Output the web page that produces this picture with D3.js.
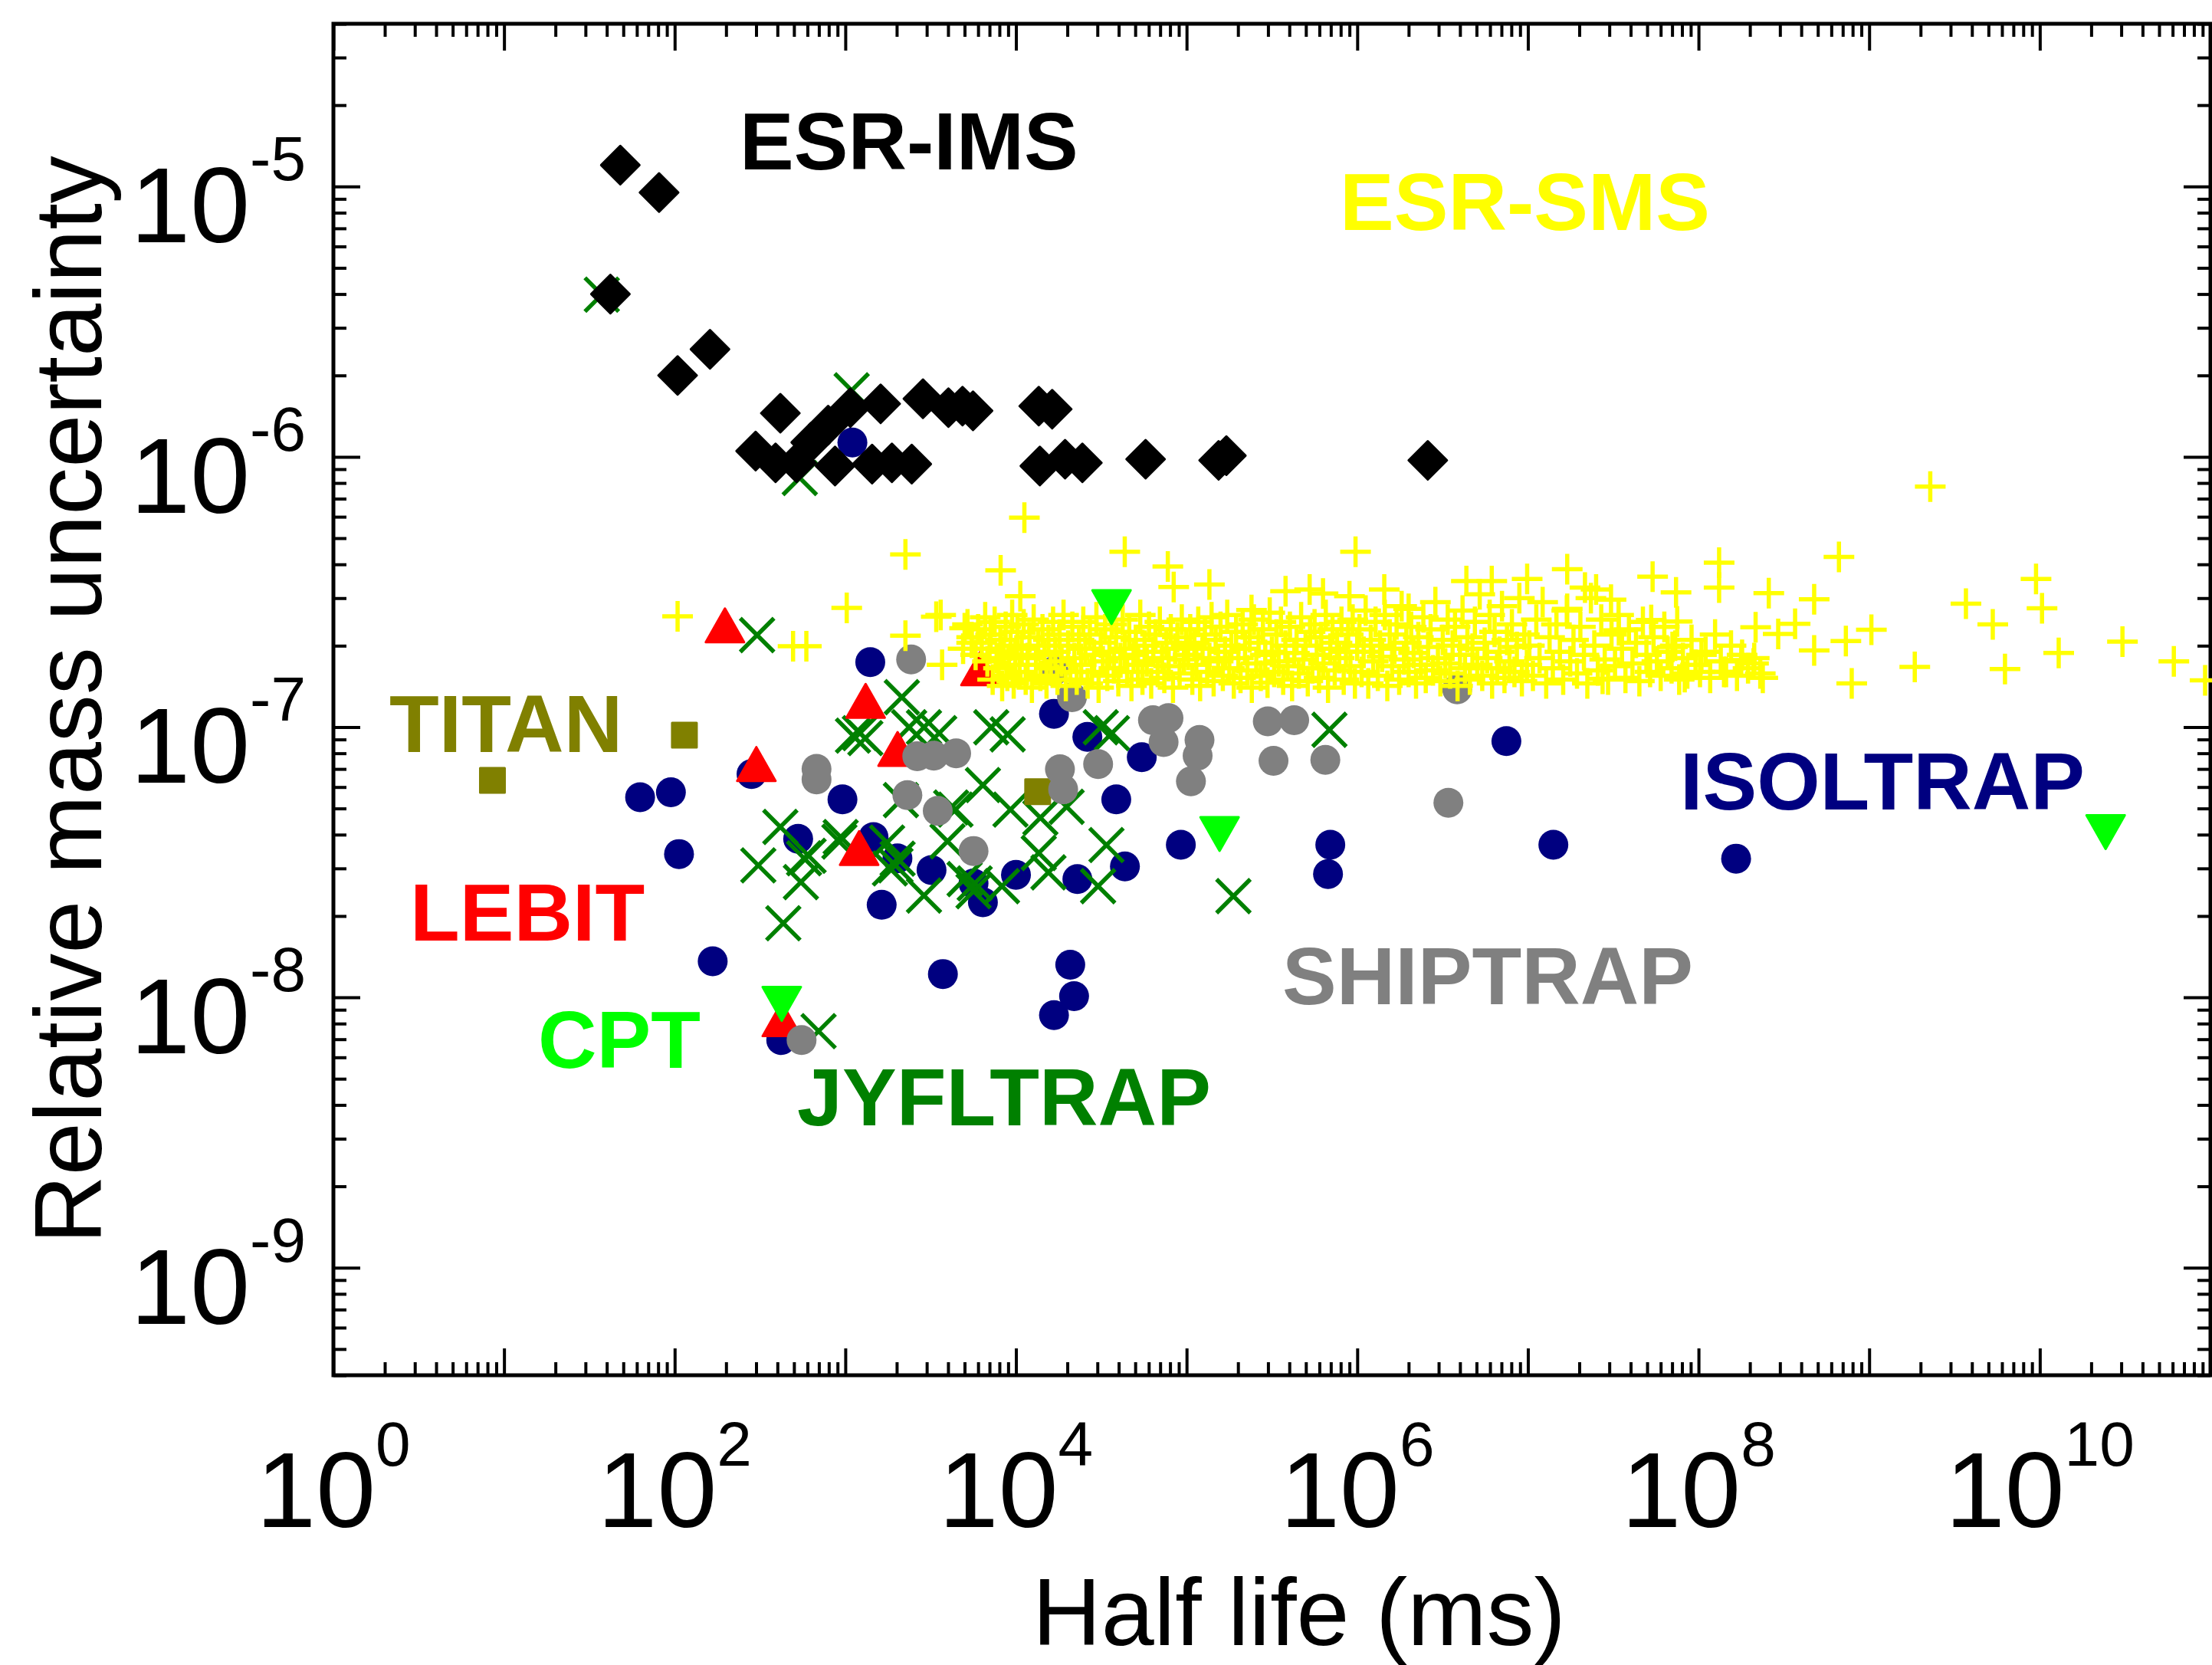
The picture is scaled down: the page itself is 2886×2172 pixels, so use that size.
<!DOCTYPE html>
<html>
<head>
<meta charset="utf-8">
<script src="https://cdn.jsdelivr.net/npm/d3@7"></script>
<style>
  body { margin: 0; background: #fff; }
  text { font-family: "Liberation Sans", Arial, Helvetica, sans-serif; }
</style>
</head>
<body>
<div id="chart"></div>
<script>
var width = 2886;
var height = 2172;

// [half life (ms), relative mass uncertainty]
var isoltrap = [[1100,1.13e-6],[1400,1.74e-7],[62.7,5.5e-8],[95,5.74e-8],[106,3.39e-8],[282,6.7e-8],[962,5.4e-8],[529,3.86e-8],[1463,3.92e-8],[2020,3.27e-8],[3200,2.96e-8],[1633,2.2e-8],[5640,2.64e-8],[6400,2.25e-8],[1.0e4,2.84e-8],[2.29e4,2.74e-8],[4.35e4,3.05e-8],[3730,1.22e-8],[2.08e4,1.32e-8],[2.19e4,1.01e-8],[1.67e4,8.6e-9],[1.67e4,1.12e-7],[2.62e4,9.2e-8],[5.46e4,7.74e-8],[3.87e4,5.4e-8],[9.25e4,3.67e-8],[6.95e5,3.67e-8],[6.74e5,2.86e-8],[7.48e6,8.87e-8],[1.41e7,3.67e-8],[1.66e8,3.26e-8],[167,1.36e-8],[421,6.95e-9]];

var jyfltrap = [[37.4,3.98e-6],[1089,1.76e-6],[541,8.35e-7],[304,2.19e-7],[2143,1.29e-7],[1109,9.3e-8],[1217,9.5e-8],[1310,9.1e-8],[2365,9.98e-8],[2890,9.98e-8],[3550,9.5e-8],[7160,9.98e-8],[8940,9.4e-8],[3.14e4,9.98e-8],[3.65e4,9.5e-8],[6400,6.1e-8],[2117,5.37e-8],[4420,4.95e-8],[9280,4.95e-8],[1.98e4,5.07e-8],[1.39e4,4.62e-8],[416,4.27e-8],[939,3.92e-8],[1757,3.74e-8],[3970,3.78e-8],[1.36e4,3.42e-8],[3.39e4,3.66e-8],[309,3.08e-8],[609,3.34e-8],[549,2.67e-8],[1967,3.08e-8],[2024,3.26e-8],[5730,2.64e-8],[2890,2.38e-8],[8280,2.58e-8],[1.55e4,2.9e-8],[3.03e4,2.58e-8],[433,1.88e-8],[697,7.5e-9],[5640,2.47e-8],[1.88e5,2.37e-8],[6.87e5,9.77e-8],[573,3.27e-8],[923,3.77e-8],[1825,3.0e-8],[5000,2.74e-8],[4170,5.04e-8]];

var lebit = [[197,2.38e-7],[1315,1.25e-7],[2024,8.3e-8],[301,7.3e-8],[1205,3.57e-8],[6190,1.65e-7],[424,8.3e-9]];

var titan = [[114,9.33e-8],[8.55,6.35e-8],[1.34e4,5.77e-8]];

var shiptrap = [[2430,1.78e-7],[678,7.0e-8],[678,6.4e-8],[2640,7.8e-8],[3300,7.84e-8],[4460,8.0e-8],[2310,5.6e-8],[3480,4.9e-8],[5640,3.48e-8],[1.81e4,6.98e-8],[1.89e4,5.88e-8],[3.03e4,7.3e-8],[2.13e4,1.29e-7],[1.66e4,1.61e-7],[6.35e4,1.06e-7],[7.83e4,1.08e-7],[7.33e4,8.8e-8],[1.19e5,8.96e-8],[1.16e5,7.84e-8],[1.06e5,6.3e-8],[2.99e5,1.05e-7],[4.27e5,1.06e-7],[3.23e5,7.5e-8],[6.5e5,7.56e-8],[3.85e6,1.38e-7],[3.42e6,5.25e-8],[554,6.95e-9]];

var cpt = [[3.63e4,2.78e-7],[1.56e5,4.02e-8],[2.43e10,4.09e-8],[424,9.46e-9]];

var esrIms = [[48,1.2e-5],[81,9.5e-6],[42,4.0e-6],[104,2.0e-6],[161,2.5e-6],[416,1.45e-6],[298,1.05e-6],[518,9.5e-7],[793,1.31e-6],[870,9.25e-7],[627,1.13e-6],[1070,1.52e-6],[390,9.5e-7],[1610,1.57e-6],[2850,1.64e-6],[4020,1.52e-6],[4860,1.54e-6],[1435,9.4e-7],[1875,9.5e-7],[2450,9.4e-7],[5600,1.48e-6],[1.36e4,1.54e-6],[1.63e4,1.5e-6],[1.38e4,9.25e-7],[1.94e4,9.8e-7],[2.45e4,9.5e-7],[5.75e4,9.8e-7],[1.54e5,9.7e-7],[1.71e5,1.01e-6],[2.59e6,9.7e-7]];

// ESR-SMS: scattered points and the dense band
var esrSmsScatter = [[104,2.57e-7],[2250,4.35e-7],[1019,2.76e-7],[494,1.99e-7],[591,1.99e-7],[3410,2.56e-7],[3620,2.6e-7],[2250,2.18e-7],[3690,1.7e-7],[5000,2.32e-7],[5500,2.05e-7],[1.12e4,5.96e-7],[8130,3.8e-7],[4.34e4,4.45e-7],[7.76e4,3.93e-7],[1.06e4,3.05e-7],[1.36e5,3.37e-7],[9.77e5,4.45e-7],[1.7e7,3.84e-7],[6.14e6,3.47e-7],[9.9e6,3.53e-7],[1.44e6,3.23e-7],[4.36e6,3.47e-7],[5.26e5,3.23e-7],[3.8e5,3.18e-7],[2.16e7,3.28e-7],[5.38e7,3.6e-7],[1.32e8,4.06e-7],[7.38e7,3.15e-7],[1.32e8,3.28e-7],[2.51e7,3.23e-7],[3.07e7,2.96e-7],[1.7e7,2.74e-7],[5.28e7,2.49e-7],[7.5e7,2.46e-7],[3.41e7,2.28e-7],[7.03e7,1.98e-7],[1.04e8,1.85e-7],[6.65e8,4.26e-7],[9.5e9,3.53e-7],[3.69e9,2.86e-7],[5.3e9,2.4e-7],[1.03e10,2.75e-7],[2.58e8,3.13e-7],[4.76e8,2.97e-7],[1.03e9,2.29e-7],[7.3e8,2.08e-7],[4.76e8,1.92e-7],[2.16e8,2.34e-7],[3.68e8,2.41e-7],[2.93e8,2.21e-7],[1.29e10,1.88e-7],[3.05e10,2.07e-7],[6.1e10,1.75e-7],[9.3e10,1.49e-7],[6.25e9,1.64e-7],[1.85e9,1.67e-7],[7.9e8,1.45e-7],[2.38e8,1.52e-7],[1.41e8,1.6e-7],[8.3e7,1.53e-7],[2.74e7,1.51e-7],[1.78e8,1.77e-7],[2.12e8,1.8e-7],[2.28e9,7.76e-7],[2.4e5,2.71e-7],[6.3e5,3.12e-7],[9.0e5,3.05e-7],[8.4e4,3.3e-7],[2.0e6,2.74e-7]];

var esrSmsBand = [
[4.9e3,1.95e-7],[5.2e3,2.4e-7],[5.5e3,2.15e-7],[5.8e3,1.85e-7],[6.0e3,2.3e-7],[6.3e3,2.05e-7],[6.6e3,2.55e-7],[6.8e3,1.75e-7],[7.0e3,1.95e-7],[7.1e3,2.2e-7],[7.3e3,1.5e-7],[7.5e3,2.45e-7],[7.7e3,1.8e-7],[7.9e3,1.65e-7],[8.1e3,2.1e-7],[8.3e3,1.42e-7],[8.5e3,1.9e-7],[8.7e3,2.35e-7],[8.9e3,1.55e-7],[9.1e3,1.7e-7],[9.3e3,2.0e-7],[9.5e3,2.6e-7],[9.7e3,1.45e-7],[9.9e3,1.85e-7],
[1.02e4,2.25e-7],[1.05e4,1.6e-7],[1.08e4,1.95e-7],[1.11e4,2.4e-7],[1.14e4,1.5e-7],[1.17e4,1.8e-7],[1.2e4,2.15e-7],[1.24e4,1.4e-7],[1.27e4,2.5e-7],[1.31e4,1.7e-7],[1.35e4,2.0e-7],[1.39e4,1.55e-7],[1.43e4,2.3e-7],[1.47e4,1.85e-7],[1.51e4,1.45e-7],[1.55e4,2.1e-7],[1.6e4,1.65e-7],[1.65e4,2.45e-7],[1.7e4,1.9e-7],[1.75e4,1.5e-7],[1.8e4,2.2e-7],[1.85e4,1.75e-7],[1.9e4,2.6e-7],[1.96e4,1.42e-7],[2.02e4,2.0e-7],[2.08e4,1.6e-7],[2.14e4,2.35e-7],[2.2e4,1.8e-7],[2.27e4,1.5e-7],[2.34e4,2.1e-7],[2.41e4,1.7e-7],[2.48e4,2.45e-7],[2.55e4,1.95e-7],[2.63e4,1.45e-7],[2.71e4,2.2e-7],[2.79e4,1.6e-7],[2.87e4,1.85e-7],[2.96e4,2.55e-7],[3.05e4,1.4e-7],[3.14e4,2.05e-7],[3.23e4,1.75e-7],[3.33e4,2.3e-7],[3.43e4,1.55e-7],[3.53e4,1.9e-7],[3.64e4,2.4e-7],[3.75e4,1.65e-7],[3.86e4,2.15e-7],[3.98e4,1.48e-7],[4.1e4,1.8e-7],[4.22e4,2.5e-7],[4.35e4,1.95e-7],[4.48e4,1.6e-7],[4.61e4,2.25e-7],[4.75e4,1.42e-7],[4.89e4,1.85e-7],[5.04e4,2.1e-7],[5.19e4,1.7e-7],[5.35e4,2.6e-7],[5.51e4,1.5e-7],[5.67e4,2.0e-7],[5.84e4,1.75e-7],[6.02e4,2.35e-7],[6.2e4,1.45e-7],[6.38e4,1.9e-7],[6.57e4,2.2e-7],[6.77e4,1.6e-7],[6.97e4,2.45e-7],[7.18e4,1.8e-7],[7.4e4,1.52e-7],[7.62e4,2.05e-7],[7.85e4,1.68e-7],[8.08e4,2.3e-7],[8.32e4,1.4e-7],[8.57e4,1.95e-7],[8.83e4,2.15e-7],[9.1e4,1.58e-7],[9.37e4,2.5e-7],[9.65e4,1.78e-7],[9.94e4,2.0e-7],
[1.02e5,1.85e-7],[1.05e5,2.3e-7],[1.08e5,1.5e-7],[1.11e5,2.05e-7],[1.14e5,1.7e-7],[1.17e5,2.45e-7],[1.2e5,1.42e-7],[1.24e5,1.95e-7],[1.28e5,2.2e-7],[1.32e5,1.6e-7],[1.36e5,1.8e-7],[1.4e5,2.55e-7],[1.44e5,1.48e-7],[1.48e5,2.1e-7],[1.53e5,1.75e-7],[1.58e5,2.35e-7],[1.63e5,1.55e-7],[1.68e5,1.9e-7],[1.73e5,2.6e-7],[1.78e5,1.65e-7],[1.83e5,2.0e-7],[1.89e5,1.45e-7],[1.95e5,2.25e-7],[2.01e5,1.8e-7],[2.07e5,1.52e-7],[2.13e5,2.4e-7],[2.2e5,1.95e-7],[2.27e5,1.62e-7],[2.34e5,2.15e-7],[2.41e5,1.4e-7],[2.48e5,2.5e-7],[2.56e5,1.72e-7],[2.64e5,2.05e-7],[2.72e5,1.55e-7],[2.8e5,2.3e-7],[2.89e5,1.85e-7],[2.98e5,1.46e-7],[3.07e5,2.65e-7],[3.16e5,1.9e-7],[3.26e5,1.6e-7],[3.36e5,2.2e-7],[3.46e5,1.75e-7],[3.57e5,2.45e-7],[3.68e5,1.5e-7],[3.79e5,2.0e-7],[3.91e5,1.68e-7],[4.03e5,2.35e-7],[4.15e5,1.42e-7],[4.28e5,1.88e-7],[4.41e5,2.1e-7],[4.55e5,1.58e-7],[4.69e5,2.55e-7],[4.83e5,1.78e-7],[4.98e5,2.0e-7],[5.13e5,1.48e-7],[5.29e5,2.25e-7],[5.45e5,1.65e-7],[5.62e5,2.4e-7],[5.79e5,1.85e-7],[5.97e5,1.52e-7],[6.15e5,2.15e-7],[6.34e5,1.72e-7],[6.54e5,2.6e-7],[6.74e5,1.4e-7],[6.95e5,1.95e-7],[7.16e5,2.3e-7],[7.38e5,1.62e-7],[7.61e5,2.05e-7],[7.84e5,1.8e-7],[8.08e5,2.45e-7],[8.33e5,1.5e-7],[8.59e5,1.9e-7],[8.85e5,2.2e-7],[9.12e5,1.68e-7],[9.4e5,2.5e-7],[9.69e5,1.45e-7],[9.99e5,2.0e-7],
[1.03e6,2.3e-7],[1.06e6,1.6e-7],[1.09e6,1.9e-7],[1.12e6,2.7e-7],[1.16e6,1.45e-7],[1.2e6,2.1e-7],[1.24e6,1.75e-7],[1.28e6,2.45e-7],[1.32e6,1.55e-7],[1.36e6,2.0e-7],[1.4e6,1.82e-7],[1.45e6,2.6e-7],[1.5e6,1.42e-7],[1.55e6,2.2e-7],[1.6e6,1.68e-7],[1.65e6,1.95e-7],[1.7e6,2.4e-7],[1.76e6,1.5e-7],[1.82e6,2.8e-7],[1.88e6,1.78e-7],[1.94e6,2.05e-7],[2.0e6,1.6e-7],[2.07e6,2.35e-7],[2.14e6,1.88e-7],[2.21e6,1.45e-7],[2.28e6,2.15e-7],[2.36e6,1.7e-7],[2.44e6,2.55e-7],[2.52e6,1.52e-7],[2.6e6,1.98e-7],[2.69e6,2.3e-7],[2.78e6,1.62e-7],[2.87e6,2.9e-7],[2.97e6,1.8e-7],[3.07e6,1.48e-7],[3.17e6,2.1e-7],[3.28e6,1.72e-7],[3.39e6,2.5e-7],[3.5e6,1.58e-7],[3.62e6,2.0e-7],[3.74e6,2.35e-7],[3.87e6,1.42e-7],[4.0e6,1.85e-7],[4.14e6,2.7e-7],[4.28e6,1.65e-7],[4.42e6,2.15e-7],[4.57e6,1.5e-7],[4.73e6,1.95e-7],[4.89e6,2.45e-7],[5.05e6,1.7e-7],[5.22e6,3.1e-7],[5.4e6,1.55e-7],[5.58e6,2.05e-7],[5.77e6,1.8e-7],[5.97e6,2.6e-7],[6.17e6,1.45e-7],[6.38e6,2.25e-7],[6.6e6,1.65e-7],[6.82e6,1.9e-7],[7.05e6,2.8e-7],[7.29e6,1.52e-7],[7.54e6,2.1e-7],[7.8e6,1.75e-7],[8.06e6,2.4e-7],[8.34e6,1.6e-7],[8.62e6,1.98e-7],[8.91e6,3.0e-7],[9.22e6,1.48e-7],[9.53e6,2.2e-7],[9.86e6,1.7e-7],
[1.02e7,2.0e-7],[1.07e7,1.55e-7],[1.12e7,2.5e-7],[1.17e7,1.8e-7],[1.22e7,2.9e-7],[1.28e7,1.45e-7],[1.34e7,2.15e-7],[1.4e7,1.65e-7],[1.47e7,2.4e-7],[1.54e7,1.9e-7],[1.61e7,1.5e-7],[1.69e7,2.7e-7],[1.77e7,1.75e-7],[1.85e7,2.1e-7],[1.94e7,1.58e-7],[2.03e7,2.35e-7],[2.13e7,1.85e-7],[2.23e7,1.45e-7],[2.34e7,3.0e-7],[2.45e7,2.0e-7],[2.57e7,1.62e-7],[2.69e7,2.5e-7],[2.82e7,1.78e-7],[2.95e7,1.5e-7],[3.09e7,2.2e-7],[3.24e7,1.68e-7],[3.4e7,2.6e-7],[3.56e7,1.95e-7],[3.73e7,1.52e-7],[3.91e7,2.3e-7],[4.1e7,1.72e-7],[4.3e7,2.05e-7],[4.5e7,1.48e-7],[4.72e7,2.45e-7],[4.95e7,1.85e-7],[5.2e7,1.6e-7],[5.45e7,2.15e-7],[5.7e7,1.75e-7],[6.0e7,1.55e-7],[6.3e7,2.35e-7],[6.6e7,1.9e-7],[6.95e7,1.65e-7],[7.3e7,2.0e-7],[7.7e7,1.5e-7],[8.1e7,1.8e-7],[8.6e7,1.58e-7],[9.1e7,2.1e-7],[9.6e7,1.7e-7],
[1.02e8,1.6e-7],[1.1e8,1.9e-7],[1.17e8,1.52e-7],[1.25e8,2.2e-7],[1.35e8,1.75e-7],[1.45e8,1.6e-7],[1.55e8,2.0e-7],[1.68e8,1.55e-7],[1.8e8,1.85e-7],[1.95e8,1.65e-7],[2.1e8,1.72e-7],[2.3e8,1.58e-7]
];

var esrSms = esrSmsScatter.concat(esrSmsBand);

var xLabelExps = [0, 2, 4, 6, 8, 10];
var yLabelExps = [-5, -6, -7, -8, -9];

var x = d3.scaleLog().domain([1, 1e11]).range([435, 2884]);
var y = d3.scaleLog().domain([4e-10, 4e-5]).range([1794, 31]);

var svgCanvas = d3.select("#chart")
    .append("svg")
    .attr("width", width)
    .attr("height", height)
    .style("display", "block")
    .style("background", "#fff");

// ticks: every decade is a major tick, 2..9 are minor
var xAll = x.ticks(50);
var yAll = y.ticks(50);
var isDecade = function(v) { return Math.abs(Math.log10(v) - Math.round(Math.log10(v))) < 1e-9; };
var xMajor = xAll.filter(isDecade), xMinor = xAll.filter(function(v) { return !isDecade(v); });
var yMajor = yAll.filter(isDecade), yMinor = yAll.filter(function(v) { return !isDecade(v); });

function tickAxis(axis, vals, size, transform) {
    var g = svgCanvas.append("g")
        .attr("transform", transform)
        .call(axis.tickValues(vals).tickSize(size).tickSizeOuter(0).tickFormat(""));
    g.select(".domain").remove();
    g.selectAll("line").attr("stroke", "black").attr("stroke-width", 4);
}

tickAxis(d3.axisBottom(x), xMajor, -35, "translate(0,1794)");
tickAxis(d3.axisBottom(x), xMinor, -17, "translate(0,1794)");
tickAxis(d3.axisTop(x), xMajor, -35, "translate(0,31)");
tickAxis(d3.axisTop(x), xMinor, -17, "translate(0,31)");
tickAxis(d3.axisLeft(y), yMajor, -35, "translate(435,0)");
tickAxis(d3.axisLeft(y), yMinor, -17, "translate(435,0)");
tickAxis(d3.axisRight(y), yMajor, -35, "translate(2884,0)");
tickAxis(d3.axisRight(y), yMinor, -17, "translate(2884,0)");

svgCanvas.append("rect")
    .attr("x", 435)
    .attr("y", 31)
    .attr("width", 2884 - 435)
    .attr("height", 1794 - 31)
    .attr("fill", "none")
    .attr("stroke", "black")
    .attr("stroke-width", 5);

// tick labels
var xLab = svgCanvas.append("g").selectAll("text")
    .data(xLabelExps)
    .join("text")
    .attr("x", function(d) { return x(Math.pow(10, d)); })
    .attr("y", 1992)
    .attr("text-anchor", "middle")
    .attr("font-size", 140);
xLab.append("tspan").text("10");
xLab.append("tspan").attr("font-size", 82).attr("dy", -80).text(function(d) { return d; });

var yLab = svgCanvas.append("g").selectAll("text")
    .data(yLabelExps)
    .join("text")
    .attr("x", 399)
    .attr("y", function(d) { return y(Math.pow(10, d)) + 73; })
    .attr("text-anchor", "end")
    .attr("font-size", 140);
yLab.append("tspan").text("10");
yLab.append("tspan").attr("font-size", 82).attr("dy", -81).text(function(d) { return "-" + Math.abs(d); });

svgCanvas.append("text")
    .attr("x", 1695)
    .attr("y", 2146)
    .attr("text-anchor", "middle")
    .attr("font-size", 124)
    .text("Half life (ms)");

svgCanvas.append("text")
    .attr("transform", "translate(132,913) rotate(-90)")
    .attr("text-anchor", "middle")
    .attr("font-size", 124)
    .text("Relative mass uncertainty");

// markers
var shapes = {
    diamond: "M0,-25L25,0L0,25L-25,0Z",
    triUp: "M0,-22L25,22L-25,22Z",
    triDown: "M0,22L25,-22L-25,-22Z",
    square: "M-16,-16H16V16H-16Z",
    plus: "M-20,0H20M0,-20V20",
    cross: "M-22,-22L22,22M-22,22L22,-22"
};

function drawSeries(data, shape, color, filled, sw) {
    svgCanvas.append("g").selectAll("path")
        .data(data)
        .join("path")
        .attr("transform", function(d) { return "translate(" + x(d[0]) + "," + y(d[1]) + ")"; })
        .attr("d", shapes[shape])
        .attr("fill", filled ? color : "none")
        .attr("stroke", color)
        .attr("stroke-width", sw)
        .attr("stroke-linejoin", "round");
}

function drawCircles(data, color) {
    svgCanvas.append("g").selectAll("circle")
        .data(data)
        .join("circle")
        .attr("cx", function(d) { return x(d[0]); })
        .attr("cy", function(d) { return y(d[1]); })
        .attr("r", 19.5)
        .attr("fill", color);
}

drawCircles(isoltrap, "#000080");
drawSeries(jyfltrap, "cross", "#008000", false, 5.5);
drawSeries(lebit, "triUp", "#ff0000", true, 3);
drawSeries(titan, "square", "#808000", true, 3);
drawCircles(shiptrap, "#808080");
drawSeries(esrSms, "plus", "#ffff00", false, 5.5);
drawSeries(cpt, "triDown", "#00ff00", true, 3);
drawSeries(esrIms, "diamond", "#000000", true, 3);

// labels for each facility
var labels = [
    { text: "ESR-IMS", x: 971, y: 221, color: "#000000" },
    { text: "ESR-SMS", x: 1754, y: 300, color: "#ffff00" },
    { text: "TITAN", x: 514, y: 981, color: "#808000" },
    { text: "LEBIT", x: 541, y: 1227, color: "#ff0000" },
    { text: "CPT", x: 708, y: 1393, color: "#00ff00" },
    { text: "JYFLTRAP", x: 1046, y: 1468, color: "#008000" },
    { text: "SHIPTRAP", x: 1679, y: 1310, color: "#808080" },
    { text: "ISOLTRAP", x: 2198, y: 1056, color: "#000080" }
];

svgCanvas.append("g").selectAll("text")
    .data(labels)
    .join("text")
    .attr("x", function(d) { return d.x - 6; })
    .attr("y", function(d) { return d.y; })
    .attr("font-size", 106)
    .attr("font-weight", "bold")
    .attr("fill", function(d) { return d.color; })
    .text(function(d) { return d.text; });
</script>
</body>
</html>
